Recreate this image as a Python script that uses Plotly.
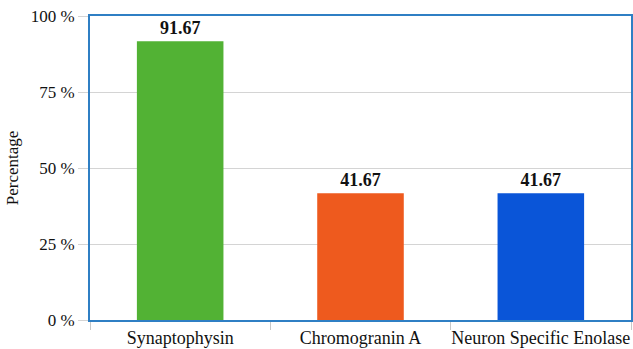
import plotly.graph_objects as go

categories = ["Synaptophysin", "Chromogranin A", "Neuron Specific Enolase"]
values = [91.67, 41.67, 41.67]
colors = ["#52b234", "#ee5a1e", "#0a55d8"]
y_ticks = [0, 25, 50, 75, 100]
y_tick_labels = ["0 %", "25 %", "50 %", "75 %", "100 %"]

fig = go.Figure(go.Bar(
    x=categories, y=values,
    marker=dict(color=colors, line=dict(width=0)),
    width=0.48,
    text=[f"{v:.2f}" for v in values],
    textposition="outside",
    textfont=dict(family="Liberation Serif", size=18, color="#111111"),
    texttemplate="<b>%{text}</b>",
    cliponaxis=False,
    hoverinfo="skip",
))

fig.update_layout(
    width=633, height=349,
    margin=dict(l=90, r=2, t=16, b=29),
    paper_bgcolor="white", plot_bgcolor="white",
    font=dict(family="Liberation Serif", size=17, color="#111111"),
    showlegend=False,
)
fig.update_yaxes(
    range=[0, 100], tickvals=y_ticks, ticktext=y_tick_labels,
    automargin=False,
    showgrid=True, gridcolor="#d4d4d4", gridwidth=1,
    ticks="outside", ticklen=10, tickcolor="#d4d4d4",
    showline=True, mirror=True, linecolor="#2f7fc4", linewidth=2,
    zeroline=False,
    title=dict(text="Percentage", font=dict(size=17), standoff=8),
)
fig.update_xaxes(
    automargin=False, tickangle=0,
    tickson="boundaries", ticks="outside", ticklen=8, tickcolor="#c8c8c8",
    showline=True, mirror=True, linecolor="#2f7fc4", linewidth=2,
    showgrid=False, tickfont=dict(size=18),
)

fig.write_html("out.html", config={"displayModeBar": False},
               post_script="document.body.style.margin='0';document.body.style.overflow='hidden';")
